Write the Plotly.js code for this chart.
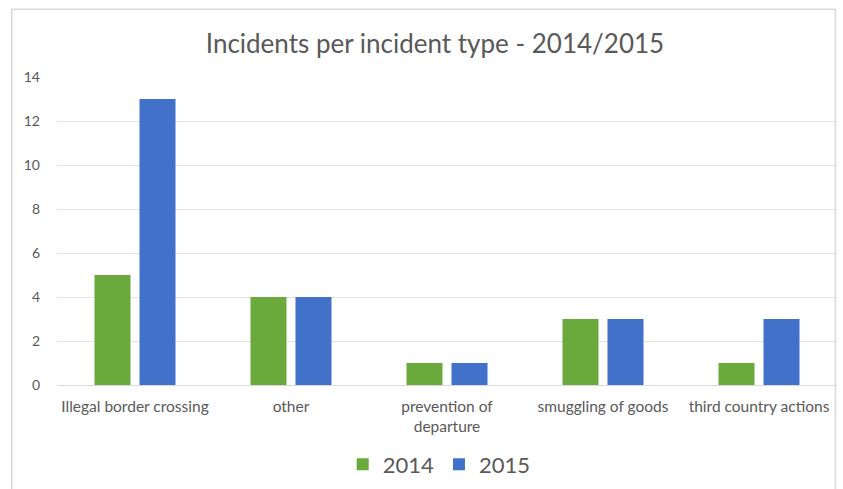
<!DOCTYPE html>
<html><head><meta charset="utf-8">
<script src="https://cdn.plot.ly/plotly-3.0.1.min.js"></script>
<style>html,body{margin:0;padding:0;background:#fff;}</style>
</head><body>
<div id="chart" style="width:843px;height:489px;"></div>
<script>
const categories = ["Illegal border crossing", "other", "prevention of<br>departure", "smuggling of goods", "third country actions"];
const values2014 = [5, 4, 1, 3, 1];
const values2015 = [13, 4, 1, 3, 3];
const yTicks = [0, 2, 4, 6, 8, 10, 12, 14];

const font = "Lato, 'Open Sans', sans-serif";
const data = [
  {type: "bar", name: "2014", x: categories, y: values2014, marker: {color: "#6aaa3c"}},
  {type: "bar", name: "2015", x: categories, y: values2015, marker: {color: "#4271c9"}}
];
const layout = {
  width: 843, height: 489,
  margin: {l: 57, r: 6, t: 77, b: 104},
  paper_bgcolor: "#fff", plot_bgcolor: "#fff",
  title: {text: "Incidents per incident type - 2014/2015", x: 0.516, xanchor: "center", y: 0.91, yanchor: "middle",
          font: {family: font, size: 26, color: "#595959"}},
  barmode: "group", bargap: 0.423, bargroupgap: 0.2,
  xaxis: {tickfont: {family: font, size: 15.5, color: "#595959"}, showline: true, linecolor: "#d9d9d9",
          ticks: "", showgrid: false, ticklabelstandoff: 7, automargin: false},
  yaxis: {range: [0, 14], tickvals: yTicks, ticktext: yTicks.map(String),
          tickfont: {family: font, size: 14, color: "#595959"}, gridcolor: "#e4e4e4",
          zeroline: true, zerolinecolor: "#d9d9d9", ticklabelstandoff: 16, showline: false, automargin: false},
  showlegend: true,
  legend: {orientation: "h", x: 0.49, xanchor: "center", yref: "container", y: 0.05, yanchor: "middle",
           bgcolor: "rgba(0,0,0,0)",
           font: {family: font, size: 22, color: "#595959"}, itemwidth: 30},
  shapes: [
    {type: "rect", xref: "paper", yref: "paper", x0: -0.058, x1: 0.998, y0: -0.34, y1: 1.22,
     line: {color: "#d9d9d9", width: 1.5}, fillcolor: "rgba(0,0,0,0)"}
  ]
};
Plotly.newPlot("chart", data, layout, {displayModeBar: false});
</script>
</body></html>
